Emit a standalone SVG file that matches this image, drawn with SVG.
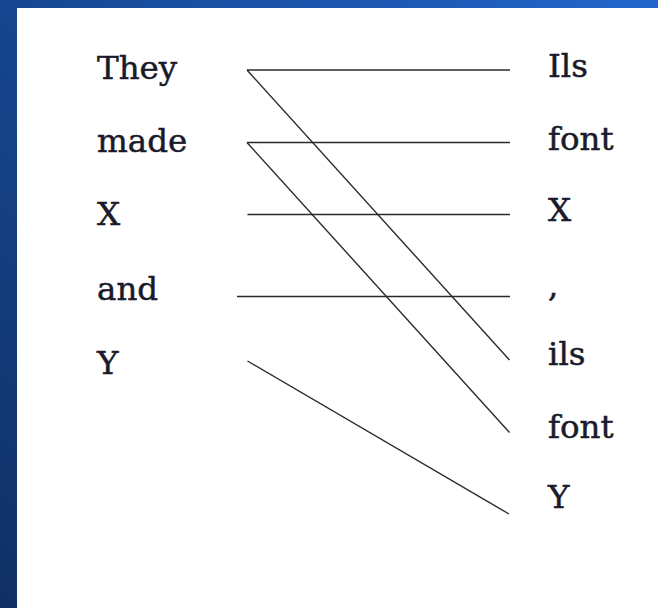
<svg xmlns="http://www.w3.org/2000/svg" width="658" height="608" viewBox="0 0 658 608">
<defs>
<linearGradient id="bg" x1="0" y1="1" x2="1" y2="0">
<stop offset="0" stop-color="#103064"/>
<stop offset="0.5" stop-color="#164690"/>
<stop offset="1" stop-color="#2366cc"/>
</linearGradient>
<style>
.w{font-family:"DejaVu Serif","Liberation Serif",serif;font-size:32.5px;fill:#1a1a2a;stroke:#1a1a2a;stroke-width:0.5}
.c line{stroke:#2a2a2a;stroke-width:1.4;fill:none}
</style>
</defs>
<rect x="0" y="0" width="658" height="608" fill="url(#bg)"/>
<rect x="17" y="8" width="641" height="600" fill="#ffffff"/>
<g id="src-they"><text class="w" x="97" y="79">They</text></g>
<g id="src-made"><text class="w" x="97" y="152">made</text></g>
<g id="src-x"><text class="w" x="97" y="225">X</text></g>
<g id="src-and"><text class="w" x="97" y="300">and</text></g>
<g id="src-y"><text class="w" x="97" y="374">Y</text></g>
<g id="tgt-ils1"><text class="w" x="548" y="77">Ils</text></g>
<g id="tgt-font1"><text class="w" x="548" y="150">font</text></g>
<g id="tgt-x"><text class="w" x="548" y="221">X</text></g>
<g id="tgt-comma"><text class="w" x="548" y="297">,</text></g>
<g id="tgt-ils2"><text class="w" x="548" y="365">ils</text></g>
<g id="tgt-font2"><text class="w" x="548" y="438">font</text></g>
<g id="tgt-y"><text class="w" x="548" y="508">Y</text></g>
<g class="c" id="connectors">
<line x1="247" y1="70" x2="510" y2="70"/>
<line x1="247" y1="70" x2="509.5" y2="360"/>
<line x1="247" y1="142.5" x2="510" y2="142.5"/>
<line x1="247" y1="142.5" x2="509.5" y2="432.5"/>
<line x1="247.5" y1="214.5" x2="510" y2="214.5"/>
<line x1="237" y1="296.5" x2="510" y2="296.5"/>
<line x1="247.5" y1="361" x2="509" y2="514"/>
</g>
</svg>
